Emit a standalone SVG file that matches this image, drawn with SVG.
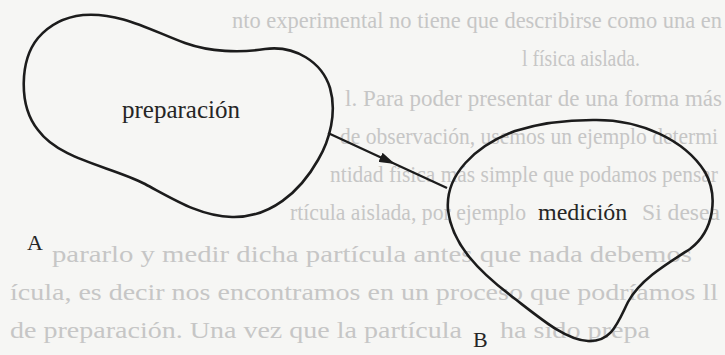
<svg xmlns="http://www.w3.org/2000/svg" width="725" height="355" viewBox="0 0 725 355">
<defs>
<style>
.bg{font-family:"Liberation Serif","Times New Roman",serif;font-size:22.5px;fill:#c6c6c6;}
.lbl{font-family:"Liberation Serif","Times New Roman",serif;fill:#262626;}
.blob{fill:none;stroke:#1c1c1c;stroke-width:2.6;stroke-linejoin:round;}
.conn{fill:none;stroke:#1c1c1c;stroke-width:2.4;}
</style>
<marker id="arr" viewBox="0 0 16 10" refX="16" refY="5" markerWidth="16" markerHeight="10" markerUnits="userSpaceOnUse" orient="auto">
<path d="M0,0 L16,5 L0,10 Z" fill="#1c1c1c"/>
</marker>
</defs>
<rect width="725" height="355" fill="#f6f6f4"/>
<g id="background-text" class="bg">
<text x="232" y="28" textLength="490" lengthAdjust="spacingAndGlyphs">nto experimental no tiene que describirse como una en</text>
<text x="522" y="66" textLength="118" lengthAdjust="spacingAndGlyphs">l física aislada.</text>
<text x="345" y="106" textLength="377" lengthAdjust="spacingAndGlyphs">l. Para poder presentar de una forma más</text>
<text x="340" y="144" textLength="378" lengthAdjust="spacingAndGlyphs">de observación, usemos un ejemplo determi</text>
<text x="330" y="182" textLength="388" lengthAdjust="spacingAndGlyphs">ntidad física más simple que podamos pensar</text>
<text x="290" y="220" textLength="236" lengthAdjust="spacingAndGlyphs">rtícula aislada, por ejemplo</text>
<text x="642" y="220" textLength="78" lengthAdjust="spacingAndGlyphs">Si desea</text>
<text x="52" y="262" textLength="640" lengthAdjust="spacingAndGlyphs">pararlo y medir dicha partícula antes que nada debemos</text>
<text x="10" y="300" textLength="708" lengthAdjust="spacingAndGlyphs">ícula, es decir nos encontramos en un proceso que podríamos ll</text>
<text x="10" y="338" textLength="452" lengthAdjust="spacingAndGlyphs">de preparación. Una vez que la partícula</text>
<text x="500" y="338" textLength="150" lengthAdjust="spacingAndGlyphs">ha sido prepa</text>
</g>
<g id="connectors">
<path class="conn" d="M328,133 L395,164 L447,188" marker-mid="url(#arr)"/>
</g>
<g id="node-preparacion">
<path class="blob" d="M83,15 C120,12 150,30 185,43 C210,52 240,53 265,49 C295,45 322,62 330,88 C337,112 330,140 318,160 C300,192 270,218 232,217 C200,216 175,200 145,184 C110,166 60,160 38,130 C18,105 20,60 38,38 C50,24 65,17 83,15 Z"/>
<text class="lbl" x="122" y="118" font-size="25">preparación</text>
</g>
<g id="node-medicion">
<path class="blob" d="M593,120 C640,119 685,140 705,172 C718,195 715,230 690,249 C665,265 640,280 628,302 C618,322 612,342 588,341 C565,340 540,318 510,295 C480,272 452,245 448,210 C445,175 475,146 515,131 C540,123 565,120 593,120 Z"/>
<text class="lbl" x="538" y="220" font-size="24">medición</text>
</g>
<g id="label-A"><text class="lbl" x="27" y="250" font-size="22">A</text></g>
<g id="label-B"><text class="lbl" x="473" y="347" font-size="22">B</text></g>
</svg>
